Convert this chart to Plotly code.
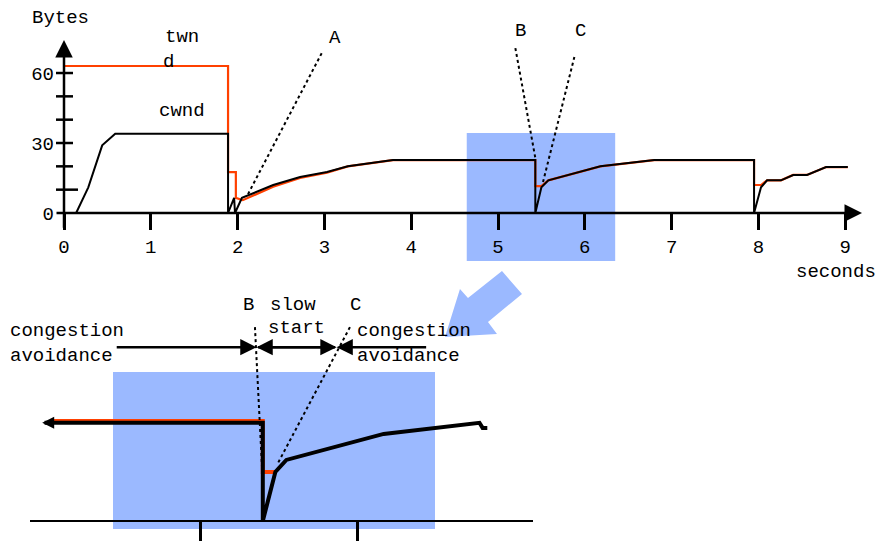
import plotly.graph_objects as go

# canvas / pixel calibration of the drawing
W, H = 881, 541
X0_PX, PX_PER_S = 64, 86.8        # upper chart: t=0 at px 64, 86.8 px per second
Y0_PX, PX_PER_B = 213, 2.333      # upper chart: 0 bytes at px 213
X5_PX, ZPX_PER_S = 200, 157.0     # lower (zoomed) chart: t=5 at px 200
ZY0_PX, ZPX_PER_B = 521, 4.27     # lower chart: 0 bytes at px 521

FONT = dict(family="Liberation Mono", size=19, color="black")
RED = "#FF4000"
BLUE = "#9BB9FF"

# ---- upper chart data (seconds, bytes) ----
t_cwnd = [0, 0.14, 0.28, 0.44, 0.59, 1.89, 1.89, 1.96, 1.97, 2.05, 2.41, 2.72, 3.03, 3.27, 3.79,
          5.43, 5.43, 5.50, 5.58, 6.18, 6.80, 7.95, 7.95, 8.03, 8.10, 8.26, 8.40, 8.56, 8.78, 9.03]
cwnd = [0, 0, 11, 29, 34, 34, 0, 6.5, 0, 6.5, 12, 15.4, 17.6, 20, 22.7,
        22.7, 0, 11, 14, 20, 22.7, 22.7, 0, 11, 14, 14, 16.3, 16.3, 19.7, 19.7]
t_twnd = [0, 1.89, 1.89, 1.98, 1.98, 2.06, 2.41, 2.72, 3.03, 3.27, 3.79, 5.43, 5.43, 5.50,
          5.58, 6.18, 6.80, 7.95, 7.95, 8.03, 8.10, 8.26, 8.40, 8.56, 8.78, 9.03]
twnd = [63, 63, 17.5, 17.5, 6.5, 5.5, 11.3, 15, 17.3, 20, 22.7, 22.7, 11.5, 11.5,
        14, 20, 22.7, 22.7, 12, 12, 14, 14, 16.3, 16.3, 19.7, 19.7]

x_ticks = [0, 1, 2, 3, 4, 5, 6, 7, 8, 9]
x_tick_labels = ["0", "1", "2", "3", "4", "5", "6", "7", "8", "9"]
y_ticks = [10, 20, 30, 40, 50, 60]
y_label_vals = [0, 30, 60]
y_labels = ["0", "30", "60"]

# pointer lines from the labels A, B, C
ptr_A_t, ptr_A_y = [2.12, 2.97], [8.1, 68.6]
ptr_B_t, ptr_B_y = [5.20, 5.43], [70.7, 23.6]
ptr_C_t, ptr_C_y = [5.88, 5.51], [66.9, 12.0]
zoom_window = [4.64, 6.35]  # highlighted region in seconds

# ---- lower (zoomed) chart data ----
zoom_t = [4.01, 5.40, 5.40, 5.48, 5.55, 6.17, 6.78, 6.80, 6.83]
zoom_cwnd = [23.0, 23.0, 0, 11.5, 14.3, 20.4, 23.0, 21.8, 21.8]
zoom_twnd_t = [4.05, 5.40, 5.40, 5.48]
zoom_twnd = [23.4, 23.4, 11.5, 11.5]
zoom_ticks = [5, 6]
phase_B, phase_C = 5.36, 5.87
phase_row = [4.46, 6.45]
phase_level = 40.7
zptr_B_t, zptr_B_y = [5.35, 5.395], [45.4, 12.6]
zptr_C_t, zptr_C_y = [5.955, 5.497], [45.4, 13.6]

fig = go.Figure()

# upper curves
fig.add_trace(go.Scatter(x=t_twnd, y=twnd, mode="lines", line=dict(color=RED, width=2.2),
                         xaxis="x", yaxis="y"))
fig.add_trace(go.Scatter(x=t_cwnd, y=cwnd, mode="lines", line=dict(color="black", width=2),
                         xaxis="x", yaxis="y"))
for px_, py_ in [(ptr_A_t, ptr_A_y), (ptr_B_t, ptr_B_y), (ptr_C_t, ptr_C_y)]:
    fig.add_trace(go.Scatter(x=px_, y=py_, mode="lines",
                             line=dict(color="black", width=2, dash="dot"), xaxis="x", yaxis="y"))

# lower curves
fig.add_trace(go.Scatter(x=zoom_twnd_t, y=zoom_twnd, mode="lines", line=dict(color=RED, width=4),
                         xaxis="x2", yaxis="y2"))
fig.add_trace(go.Scatter(x=zoom_t, y=zoom_cwnd, mode="lines", line=dict(color="black", width=4),
                         xaxis="x2", yaxis="y2"))
for px_, py_ in [(zptr_B_t, zptr_B_y), (zptr_C_t, zptr_C_y)]:
    fig.add_trace(go.Scatter(x=px_, y=py_, mode="lines",
                             line=dict(color="black", width=2, dash="dot"), xaxis="x2", yaxis="y2"))

shapes = []
# highlighted windows
shapes.append(dict(type="rect", xref="x", yref="y", x0=zoom_window[0], x1=zoom_window[1],
                   y0=(Y0_PX - 261) / PX_PER_B, y1=(Y0_PX - 133) / PX_PER_B,
                   fillcolor=BLUE, line=dict(width=0), layer="below"))
shapes.append(dict(type="rect", xref="x2", yref="y2",
                   x0=5 + (113 - X5_PX) / ZPX_PER_S, x1=5 + (435 - X5_PX) / ZPX_PER_S,
                   y0=(ZY0_PX - 529) / ZPX_PER_B, y1=(ZY0_PX - 372) / ZPX_PER_B,
                   fillcolor=BLUE, line=dict(width=0), layer="below"))
# crossing y tick marks
for v in y_ticks:
    right = 14 if v == 10 else 9
    shapes.append(dict(type="line", xref="x", yref="y", x0=-8 / PX_PER_S, x1=right / PX_PER_S,
                       y0=v, y1=v, line=dict(color="black", width=2.5)))
# lower baseline
shapes.append(dict(type="line", xref="x2", yref="y2",
                   x0=5 + (30 - X5_PX) / ZPX_PER_S, x1=5 + (533 - X5_PX) / ZPX_PER_S,
                   y0=0, y1=0, line=dict(color="black", width=2)))
# big blue pointer arrow from the window down to the zoom
arrow_px = [(445, 337), (460, 289), (468, 298), (502, 271), (522, 294), (488, 322), (497, 334)]
path = "M " + " L ".join(f"{x / W:.4f},{1 - y / H:.4f}" for x, y in arrow_px) + " Z"
shapes.append(dict(type="path", xref="paper", yref="paper", path=path,
                   fillcolor=BLUE, line=dict(width=0), layer="below"))

ann = []


def arrow(x, y, ax, ay, xr, yr, width=2.5, size=1.4):
    ann.append(dict(x=x, y=y, ax=ax, ay=ay, xref=xr, yref=yr, axref=xr, ayref=yr, text="",
                    showarrow=True, arrowhead=2, arrowwidth=width, arrowsize=size,
                    arrowcolor="black", standoff=0, startstandoff=0))


# upper axes with arrow heads
arrow(0, (Y0_PX - 40) / PX_PER_B, 0, -7, "x", "y")
arrow((862 - X0_PX) / PX_PER_S, 0, -9 / PX_PER_S, 0, "x", "y")
# lower left continuation arrow
arrow(zoom_t[0] - 0.015, zoom_cwnd[0], zoom_t[0] + 0.06, zoom_cwnd[0], "x2", "y2", width=2, size=1.2)
# phase arrows
arrow(phase_B, phase_level, phase_row[0], phase_level, "x2", "y2", width=2.5, size=1.3)
arrow(phase_B, phase_level, phase_C, phase_level, "x2", "y2", width=2.5, size=1.3)
arrow(phase_C, phase_level, phase_B, phase_level, "x2", "y2", width=2.5, size=1.3)
arrow(phase_C, phase_level, phase_row[1], phase_level, "x2", "y2", width=2.5, size=1.3)


def label(text, xp, yp, xanchor="center"):
    # position given in canvas pixels
    ann.append(dict(x=xp / W, y=1 - yp / H, xref="paper", yref="paper", text=text,
                    showarrow=False, font=FONT, xanchor=xanchor, yanchor="middle"))


label("Bytes", 60, 18)
label("twn", 182, 37)
label("d", 168, 62)
label("cwnd", 182, 111)
label("A", 335, 38)
label("B", 520, 31)
label("C", 580, 31)
label("seconds", 836, 272)
label("congestion", 8, 331, "left")
label("avoidance", 8, 356, "left")
label("B", 248, 305)
label("slow", 293, 305)
label("start", 296, 328)
label("C", 355, 305)
label("congestion", 355, 331, "left")
label("avoidance", 355, 356, "left")

fig.update_layout(
    width=W, height=H, margin=dict(l=0, r=0, t=0, b=0),
    paper_bgcolor="white", plot_bgcolor="rgba(0,0,0,0)",
    showlegend=False, shapes=shapes, annotations=ann,
    xaxis=dict(domain=[0, 1], range=[-X0_PX / PX_PER_S, (W - X0_PX) / PX_PER_S],
               anchor="free", position=1 - Y0_PX / H, showgrid=False, zeroline=False,
               showline=False, ticks="outside", ticklen=16, tickwidth=2.5, tickcolor="black",
               tickvals=x_ticks, ticktext=x_tick_labels, tickfont=FONT, fixedrange=True),
    yaxis=dict(domain=[0, 1], range=[(Y0_PX - H) / PX_PER_B, Y0_PX / PX_PER_B],
               anchor="free", position=X0_PX / W, showgrid=False, zeroline=False,
               showline=False, ticks="", tickvals=y_label_vals, ticktext=y_labels,
               tickfont=FONT, ticklabelstandoff=10, fixedrange=True),
    xaxis2=dict(domain=[0, 1], range=[5 - X5_PX / ZPX_PER_S, 5 + (W - X5_PX) / ZPX_PER_S],
                anchor="free", position=1 - ZY0_PX / H, showgrid=False, zeroline=False,
                showline=False, ticks="outside", ticklen=19, tickwidth=3, tickcolor="black",
                tickvals=zoom_ticks, showticklabels=False, fixedrange=True),
    yaxis2=dict(domain=[0, 1], range=[(ZY0_PX - H) / ZPX_PER_B, ZY0_PX / ZPX_PER_B],
                anchor="free", position=0, visible=False, fixedrange=True),
)

# drop the browser's default page margin so the figure fills the window
fig.write_html("out.html", config={"displayModeBar": False},
               post_script="document.body.style.margin='0px';")
